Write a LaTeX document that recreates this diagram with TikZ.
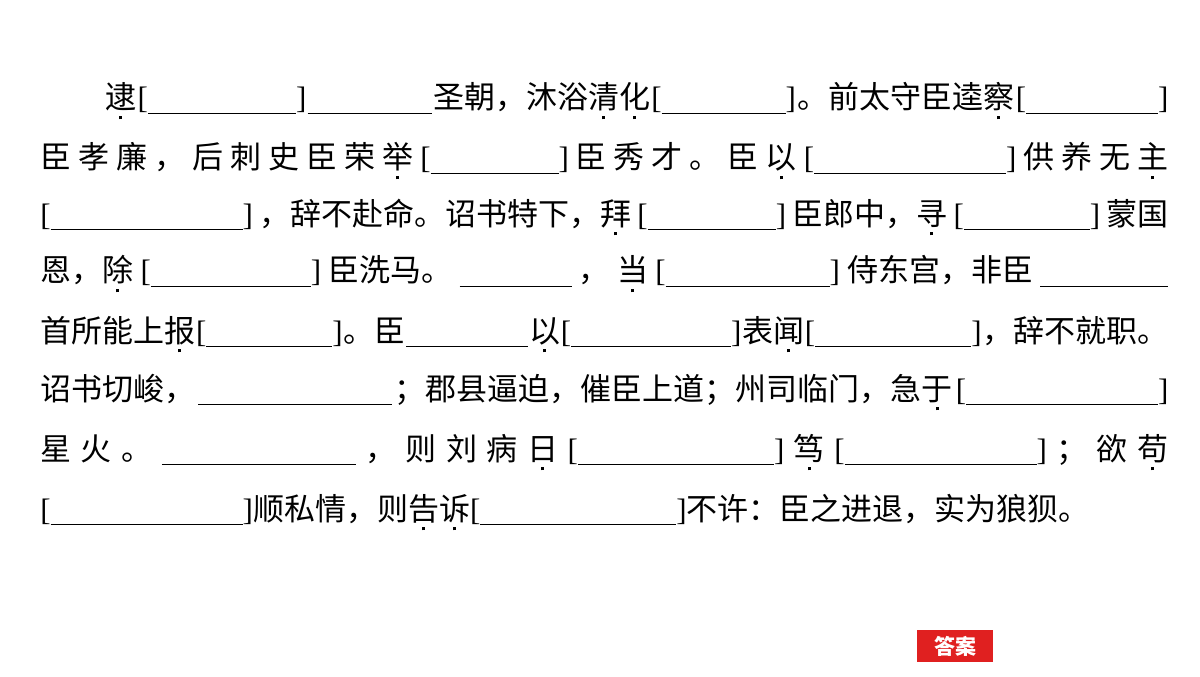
\documentclass[tikz,border=0pt]{standalone}
\usepackage{fontspec}
\setmainfont{Liberation Serif}
\newfontfamily\cjk{Noto Sans CJK SC}
\definecolor{btnred}{HTML}{E02020}
\newcommand\bl[1]{\rule[-2.5pt]{#1pt}{0.7pt}}
\newcommand\bk[1]{\textrm{[}\bl{#1}\textrm{]}}
\newcommand\dc[1]{\ooalign{#1\cr\hidewidth\raisebox{-5.2pt}{\rule{1.5pt}{1.5pt}}\hidewidth\cr}}
\newcommand\sg{\hspace{0pt plus 1fil}}
\tikzset{ln/.style={anchor=base west,inner sep=0pt,font=\cjk\fontsize{15.5pt}{18pt}\selectfont}}
\begin{document}
\begin{tikzpicture}[x=1pt,y=1pt]
\useasboundingbox[fill=white] (0,0) rectangle (600,338);
\node[ln] (l1) at (52.5,283.5) {\makebox[531.5pt][s]{\dc{逮}\sg{}\bk{74}\sg{}\bl{62}\sg{}圣朝，沐浴\dc{清}\dc{化}\sg{}\bk{62}\sg{}。前太守臣逵\dc{察}\sg{}\bk{66}}};
\node[ln] (l2) at (20,253.5) {\makebox[564pt][s]{臣\sg{}孝\sg{}廉\sg{}，\sg{}后\sg{}刺\sg{}史\sg{}臣\sg{}荣\sg{}\dc{举}\sg{}\bk{64}\sg{}臣\sg{}秀\sg{}才\sg{}。\sg{}臣\sg{}\dc{以}\sg{}\bk{96}\sg{}供\sg{}养\sg{}无\sg{}\dc{主}}};
\node[ln] (l3) at (20,225.5) {\makebox[564pt][s]{\bk{96}\sg{}，辞不赴命。诏书特下，\dc{拜}\sg{}\bk{64}\sg{}臣郎中，\dc{寻}\sg{}\bk{63}\sg{}蒙国}};
\node[ln] (l4) at (20,197) {\makebox[564pt][s]{恩，\dc{除}\sg{}\bk{80}\sg{}臣洗马。\sg{}\bl{56}\sg{}，\sg{}\dc{当}\sg{}\bk{82}\sg{}侍东宫，非臣\sg{}\bl{64}}};
\node[ln] (l5) at (20,167) {\makebox[564pt][s]{首所能上\dc{报}\sg{}\bk{63}\sg{}。臣\sg{}\bl{61}\sg{}\dc{以}\sg{}\bk{80}\sg{}表\dc{闻}\sg{}\bk{78}\sg{}，辞不就职。}};
\node[ln] (l6) at (20,138) {\makebox[564pt][s]{诏书切峻，\sg{}\bl{97}\sg{}；郡县逼迫，催臣上道；州司临门，急\dc{于}\sg{}\bk{96}}};
\node[ln] (l7) at (20,108) {\makebox[564pt][s]{星\sg{}火\sg{}。\sg{}\bl{97}\sg{}，\sg{}则\sg{}刘\sg{}病\sg{}\dc{日}\sg{}\bk{98}\sg{}\dc{笃}\sg{}\bk{96}\sg{}；\sg{}欲\sg{}\dc{苟}}};
\node[ln] (l8) at (20,78) {\bk{96}顺私情，则\dc{告}\dc{诉}\bk{98}不许：臣之进退，实为狼狈。};
\node[fill=btnred,minimum width=38pt,minimum height=16pt,inner sep=0pt,text=white,font=\cjk\bfseries\fontsize{10.5pt}{12pt}\selectfont] (ans) at (477.5,15) {答案};
\end{tikzpicture}
\end{document}
